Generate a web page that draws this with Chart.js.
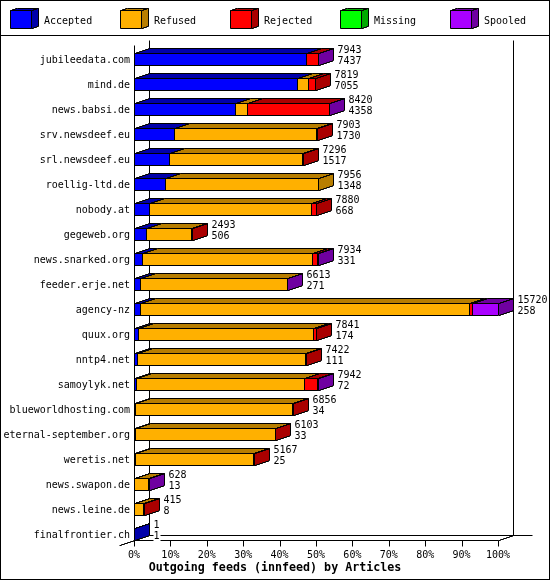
<!DOCTYPE html>
<html>
<head>
<meta charset="utf-8">
<style>html,body{margin:0;padding:0;background:#fff}canvas{display:block}</style>
<script src="https://cdn.jsdelivr.net/npm/chart.js@4"></script>
</head>
<body>
<div style="width:550px;height:580px"><canvas id="c" width="550" height="580"></canvas></div>
<script>
const categories = ["jubileedata.com","mind.de","news.babsi.de","srv.newsdeef.eu","srl.newsdeef.eu","roellig-ltd.de","nobody.at","gegeweb.org","news.snarked.org","feeder.erje.net","agency-nz","quux.org","nntp4.net","samoylyk.net","blueworldhosting.com","eternal-september.org","weretis.net","news.swapon.de","news.leine.de","finalfrontier.ch"];
const accepted = [7437,7055,4358,1730,1517,1348,668,506,331,271,258,174,111,72,34,33,25,13,8,1];
const refused  = [0,466,531,6145,5759,6608,6968,1972,7365,6320,14189,7549,7290,7262,6800,6050,5122,600,372,0];
const rejected = [490,298,3516,28,20,0,244,15,200,0,143,118,21,562,22,20,20,0,35,0];
const missing  = [0,0,0,0,0,0,0,0,0,0,0,0,0,0,0,0,0,0,0,0];
const spooled  = [16,0,15,0,0,0,0,0,38,22,1130,0,0,46,0,0,0,15,0,0];
const totals   = [7943,7819,8420,7903,7296,7956,7880,2493,7934,6613,15720,7841,7422,7942,6856,6103,5167,628,415,1];
const seriesNames = ["Accepted","Refused","Rejected","Missing","Spooled"];
const seriesValues = [accepted,refused,rejected,missing,spooled];
const faceColors = ["#0000ff","#ffb000","#ff0000","#00ff00","#aa00ff"];
const shadeColors = ["#0000aa","#b87e00","#aa0000","#00aa00","#6f00a0"];
const axisMax = 15720;
const tickStep = 1572;
const chartTitle = "Outgoing feeds (innfeed) by Articles";
const FONT = '"DejaVu Sans Mono", monospace';
const DX = 15, DY = 5;

function poly(ctx, pts, fill){
  ctx.beginPath();
  pts.forEach((p,i)=> i?ctx.lineTo(p[0],p[1]):ctx.moveTo(p[0],p[1]));
  ctx.closePath();
  ctx.fillStyle = fill; ctx.fill();
  ctx.strokeStyle = '#000'; ctx.lineWidth = 1; ctx.lineJoin='miter'; ctx.stroke();
}
function line(ctx,x0,y0,x1,y1){
  ctx.beginPath(); ctx.moveTo(x0,y0); ctx.lineTo(x1,y1);
  ctx.strokeStyle='#000'; ctx.lineWidth=1; ctx.stroke();
}
// staircase between two pixel centres, like an aliased bitmap line going up-right
function stairs(x,y,dx,dy){
  const pts=[[x,y]];
  for(let k=1;k<=dy;k++){
    const sx=x+Math.round((k-0.5)*dx/dy);
    pts.push([sx,y-k+1],[sx,y-k]);
  }
  pts.push([x+dx,y-dy]);
  return pts;
}
function strokePath(ctx,pts){
  ctx.beginPath();
  pts.forEach((p,i)=> i?ctx.lineTo(p[0],p[1]):ctx.moveTo(p[0],p[1]));
  ctx.strokeStyle='#000'; ctx.lineWidth=1; ctx.stroke();
}
// parallelogram on top of a front edge
function topFace(ctx,x0,x1,t,dx,dy,fill){
  const up=stairs(x0,t,dx,dy);
  const down=stairs(x1,t,dx,dy).reverse();
  poly(ctx,up.concat(down),fill);
}
// parallelogram on the right of a front edge
function sideFace(ctx,x,t,b,dx,dy,fill){
  const up=stairs(x,t,dx,dy);
  const down=stairs(x,b,dx,dy).reverse();
  poly(ctx,up.concat(down),fill);
}
const snap = v => Math.round(v)+0.5;

// front faces: snapped to the pixel grid so the outlines stay crisp
Chart.BarElement.prototype.draw = function(ctx){
  const {x,y,base,height} = this.getProps(['x','y','base','height']);
  if (Math.abs(x-base) < 0.001) return;
  const x0=snap(base), x1=snap(x), y0=Math.floor(y-height/2)+0.5, y1=y0+height;
  ctx.save();
  ctx.fillStyle=this.options.backgroundColor;
  ctx.strokeStyle='#000'; ctx.lineWidth=1;
  ctx.fillRect(x0,y0,x1-x0,y1-y0);
  ctx.strokeRect(x0,y0,x1-x0,y1-y0);
  ctx.restore();
};

const frame3d = {
  id:'frame3d',
  afterLayout(chart){ if(chart.titleBlock){chart.titleBlock.left=0;chart.titleBlock.right=chart.width;} },
  beforeDatasetsDraw(chart){
    const ctx=chart.ctx, {x}=chart.scales;
    const L=snap(x.getPixelForValue(0)), R=snap(x.getPixelForValue(axisMax));
    const floor=540.5, top=45.5;
    ctx.save();
    // outer frame and legend rule
    ctx.strokeStyle='#000'; ctx.lineWidth=1;
    ctx.strokeRect(0.5,0.5,549,579);
    line(ctx,0,35.5,550,35.5);
    // legend
    ctx.font='10px '+FONT; ctx.textBaseline='middle'; ctx.textAlign='left';
    chart.data.datasets.forEach((d,i)=>{
      const lx=10.5+110*i, w=21, ty=10.5, by=28.5, dx=7, dy=2;
      topFace(ctx,lx,lx+w,ty,dx,dy,shadeColors[i]);
      sideFace(ctx,lx+w,ty,by,dx,dy,shadeColors[i]);
      poly(ctx,[[lx,ty],[lx+w,ty],[lx+w,by],[lx,by]],faceColors[i]);
      ctx.fillStyle='#000';
      ctx.fillText(d.label,44+110*i,21);
    });
    // back wall and floor
    line(ctx,L+DX,top-DY,L+DX,floor-DY);
    line(ctx,R+DX,top-DY,R+DX,floor-DY);
    line(ctx,L+DX,floor-DY,532.5,floor-DY);
    line(ctx,L,floor,R,floor);
    strokePath(ctx,stairs(R,floor,DX,DY));
    ctx.restore();
  },
  afterDatasetsDraw(chart){
    const ctx=chart.ctx, {x,y}=chart.scales;
    const L=snap(x.getPixelForValue(0));
    const floor=540.5, top=45.5;
    ctx.save();
    const metas=chart.getSortedVisibleDatasetMetas();
    categories.forEach((cat,row)=>{
      let last=null;
      metas.forEach(m=>{
        const el=m.data[row];
        if (seriesValues[m.index][row]===0) return;
        const x0=snap(el.base), x1=snap(el.x), t=Math.floor(el.y-el.height/2)+0.5;
        topFace(ctx,x0,x1,t,DX,DY,shadeColors[m.index]);
        last={x1,t,b:t+el.height,i:m.index};
      });
      if(last){
        sideFace(ctx,last.x1,last.t,last.b,DX,DY,shadeColors[last.i]);
        const lx=last.x1+DX+4, cy=y.getPixelForValue(row);
        ctx.font='10px '+FONT; ctx.textAlign='left'; ctx.textBaseline='middle';
        [String(totals[row]),String(accepted[row])].forEach((s,k)=>{
          const ly=cy-9+11*k;
          if(row===categories.length-1){ ctx.fillStyle='#fff'; ctx.fillRect(lx,ly-5,ctx.measureText(s).width+1,10); }
          ctx.fillStyle='#000';
          ctx.fillText(s,lx,ly);
        });
      }
    });
    // front axis, ticks
    line(ctx,L,top,L,floor);
    strokePath(ctx,stairs(L-15,floor+5,15,5));
    x.ticks.forEach((t,i)=>{
      const px=snap(x.getPixelForTick(i));
      line(ctx,px,floor,px,floor+6);
    });
    ctx.restore();
  }
};

new Chart(document.getElementById('c'),{
  type:'bar',
  data:{
    labels:categories,
    datasets:seriesNames.map((n,i)=>({
      label:n,
      data:seriesValues[i],
      backgroundColor:faceColors[i],
      barThickness:12,
      stack:'s'
    }))
  },
  options:{
    indexAxis:'y',
    responsive:false,
    animation:false,
    devicePixelRatio:1,
    layout:{padding:{top:47,left:0,right:52,bottom:0}},
    plugins:{
      legend:{display:false},
      tooltip:{enabled:false},
      title:{display:true,text:chartTitle,position:'bottom',color:'#000',
        font:{family:FONT,size:11.67,weight:'bold',lineHeight:1.2},
        padding:{top:2,bottom:5}}
    },
    scales:{
      x:{
        type:'linear',stacked:true,min:0,max:axisMax,
        grid:{display:false,drawTicks:false},border:{display:false},
        ticks:{stepSize:tickStep,color:'#000',padding:2,autoSkip:false,maxRotation:0,
          font:{family:FONT,size:10},
          callback:v=>Math.round(v/axisMax*100)+'%'},
        afterFit(s){s.height=12;}
      },
      y:{
        type:'category',stacked:true,
        grid:{display:false,drawTicks:false},border:{display:false},
        ticks:{color:'#000',padding:4,autoSkip:false,labelOffset:1,font:{family:FONT,size:10}},
        afterFit(s){s.width=134;}
      }
    }
  },
  plugins:[frame3d]
});
</script>
</body>
</html>
